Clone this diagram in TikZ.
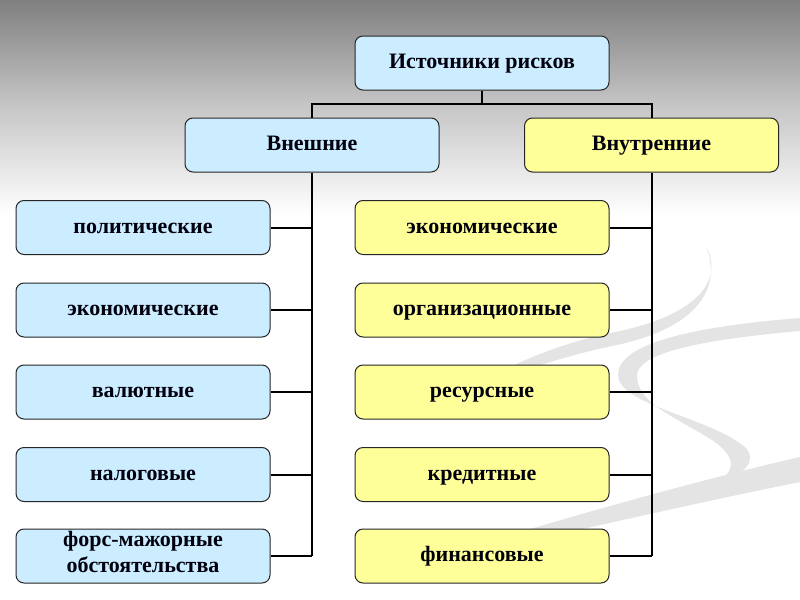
\documentclass[tikz,border=0pt]{standalone}
\usepackage{fontspec}
\setmainfont{Liberation Serif}
\usetikzlibrary{calc}
\definecolor{boxblue}{RGB}{204,236,255}
\definecolor{boxyellow}{RGB}{255,255,153}
\definecolor{swoosh}{RGB}{228,228,228}
\tikzset{
  box/.style={draw=black!85, line width=0.75pt, rounded corners=6pt,
    minimum width=190.5pt, minimum height=40.5pt, inner sep=2pt,
    align=center, font=\fontsize{16.5pt}{21.5pt}\selectfont\bfseries, text=black!95!blue,
    execute at begin node=\strut},
  twoline/.style={execute at begin node={}, inner ysep=0pt,
    font=\fontsize{16.5pt}{20pt}\selectfont\bfseries},
  bluebox/.style={box, fill=boxblue},
  yellowbox/.style={box, fill=boxyellow},
  link/.style={draw=black, line width=1.5pt},
  band/.style={fill=swoosh, draw=none}
}
\begin{document}
\begin{tikzpicture}[x=0.75pt, y=-0.75pt]
\useasboundingbox (0,0) rectangle (800,600);
% background
\fill[white] (0,0) rectangle (800,600);
\shade[top color=black!50, bottom color=white, middle color=black!22] (0,0) rectangle (800,215);
% decorative swooshes
\fill[band] (706,246) .. controls (725,282) and (695,318) .. (605,334)
  .. controls (545,348) and (505,368) .. (468,390)
  .. controls (512,374) and (560,357) .. (612,346)
  .. controls (692,330) and (724,292) .. (706,246) -- cycle;
\fill[band] (800,318) .. controls (700,326) and (618,342) .. (618,375)
  .. controls (618,405) and (712,418) .. (746,448)
  .. controls (758,463) and (742,475) .. (722,479)
  .. controls (736,468) and (734,455) .. (712,440)
  .. controls (676,417) and (636,403) .. (637,375)
  .. controls (638,350) and (720,338) .. (800,331) -- cycle;
\fill[band] (800,457) .. controls (700,480) and (560,518) .. (380,575)
  .. controls (560,534) and (700,502) .. (800,482) -- cycle;
% nodes
\node[bluebox] (top) at (482,63) {Источники рисков};
\node[bluebox] (ext) at (312,145) {Внешние};
\node[yellowbox] (int) at (651.5,145) {Внутренние};
\node[bluebox] (l1) at (143,227.5) {политические};
\node[bluebox] (l2) at (143,310) {экономические};
\node[bluebox] (l3) at (143,392) {валютные};
\node[bluebox] (l4) at (143,474.5) {налоговые};
\node[bluebox, twoline] (l5) at (143,556) {форс-мажорные\\обстоятельства};
\node[yellowbox] (r1) at (482,227.5) {экономические};
\node[yellowbox] (r2) at (482,310) {организационные};
\node[yellowbox] (r3) at (482,392) {ресурсные};
\node[yellowbox] (r4) at (482,474.5) {кредитные};
\node[yellowbox] (r5) at (482,556) {финансовые};
% connectors
\coordinate (jn) at (482,104);
\draw[link] (top.south) -- (jn);
\draw[link] (ext.north) |- (jn) -| (int.north);
\draw[link] (ext.south) -- (ext.south |- l5.east);
\draw[link] (int.south) -- (int.south |- r5.east);
\foreach \n in {l1,l2,l3,l4,l5}{\draw[link] (\n.east) -- (\n.east -| ext.south);}
\foreach \n in {r1,r2,r3,r4,r5}{\draw[link] (\n.east) -- (\n.east -| int.south);}
\end{tikzpicture}
\end{document}
